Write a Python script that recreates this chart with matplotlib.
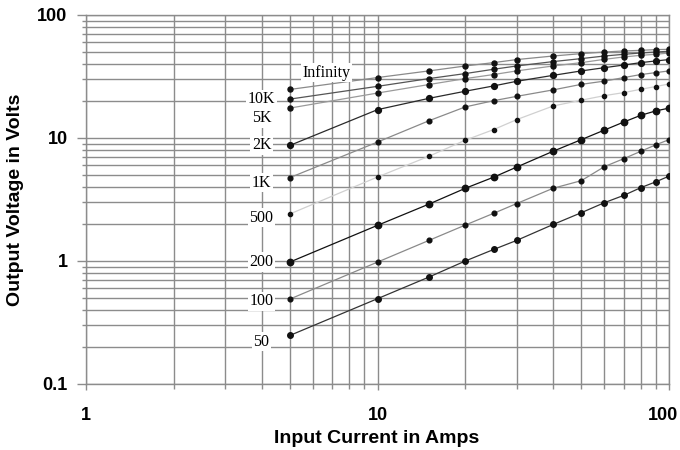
import matplotlib.pyplot as plt
from matplotlib.ticker import LogLocator, NullFormatter, FixedLocator, FixedFormatter
from matplotlib.transforms import ScaledTranslation

plt.rcParams["font.family"] = ["Liberation Sans", "DejaVu Sans"]

current = [5, 10, 15, 20, 25, 30, 40, 50, 60, 70, 80, 90, 100]

v_inf = [24.8, 31.0, 35.1, 38.5, 41.0, 43.4, 46.4, 48.5, 50.0, 51.0, 51.6, 52.3, 52.6]
v_10k = [20.7, 26.3, 30.4, 33.4, 36.2, 38.5, 41.8, 44.2, 46.4, 47.9, 49.1, 50.0, 50.7]
v_5k = [17.5, 23.2, 27.2, 30.4, 32.8, 35.1, 38.5, 41.0, 43.6, 45.6, 47.0, 47.9, 49.1]
v_2k = [8.7, 17.0, 21.0, 24.0, 26.5, 28.9, 32.3, 35.1, 37.3, 39.2, 41.0, 42.3, 43.4]
v_1k = [4.76, 9.27, 13.8, 17.9, 20.1, 21.8, 24.6, 27.3, 29.0, 31.0, 32.8, 34.0, 35.1]
v_500 = [2.41, 4.82, 7.1, 9.6, 11.7, 14.1, 18.2, 20.3, 22.1, 23.4, 24.9, 26.2, 27.5]
v_200 = [0.98, 1.95, 2.9, 3.9, 4.8, 5.8, 7.8, 9.7, 11.6, 13.5, 15.3, 16.6, 17.5]
v_100 = [0.49, 0.98, 1.47, 1.96, 2.44, 2.93, 3.9, 4.5, 5.85, 6.8, 7.8, 8.8, 9.7]
v_50 = [0.248, 0.494, 0.74, 1.0, 1.24, 1.47, 1.98, 2.47, 2.98, 3.42, 3.95, 4.4, 4.9]

load_names = ["Infinity", "10K", "5K", "2K", "1K", "500", "200", "100", "50"]
label_x = [6.7, 4, 4, 4, 4, 4, 4, 4, 4]
label_y = [34, 20.6, 14.5, 8.7, 4.33, 2.25, 0.98, 0.47, 0.22]

series = [v_inf, v_10k, v_5k, v_2k, v_1k, v_500, v_200, v_100, v_50]
colors = ["#8a8a8a", "#555555", "#9a9a9a", "#2a2a2a", "#8a8a8a",
          "#d0d0d0", "#111111", "#8a8a8a", "#333333"]
msizes = [3.6, 3.6, 3.6, 4.2, 3.4, 3.0, 4.6, 3.4, 4.0]

grid_c = "#8c8c8c"

fig = plt.figure(figsize=(6.8, 4.5), dpi=100)
ax = fig.add_axes([0.1265, 0.1467, 0.8575, 0.82])

ax.set_xscale("log")
ax.set_yscale("log")
ax.set_xlim(1, 100)
ax.set_ylim(0.1, 100)

for v, c, ms in zip(series, colors, msizes):
    ax.plot(current, v, color=c, lw=0.9, marker="o", ms=ms,
            mfc="#111111", mec="#111111", zorder=3)

for name, lx, ly in zip(load_names, label_x, label_y):
    ax.text(lx, ly, name, family=["Liberation Serif", "DejaVu Serif"],
            fontsize=11.5, ha="center", va="center", zorder=4,
            bbox=dict(facecolor="white", edgecolor="none", pad=1.2))

ax.xaxis.set_major_locator(FixedLocator([1, 10, 100]))
ax.xaxis.set_major_formatter(FixedFormatter(["1", "10", "100"]))
ax.yaxis.set_major_locator(FixedLocator([0.1, 1, 10, 100]))
ax.yaxis.set_major_formatter(FixedFormatter(["0.1", "1", "10", "100"]))
ax.xaxis.set_minor_locator(LogLocator(base=10, subs=range(2, 10)))
ax.yaxis.set_minor_locator(LogLocator(base=10, subs=range(2, 10)))
ax.xaxis.set_minor_formatter(NullFormatter())
ax.yaxis.set_minor_formatter(NullFormatter())

ax.grid(which="both", color=grid_c, lw=1.0)
ax.set_axisbelow(True)
for s in ax.spines.values():
    s.set_color(grid_c)
    s.set_linewidth(1.0)

ax.tick_params(axis="x", which="major", direction="out", length=4.5, width=1.0,
               color=grid_c, pad=12, labelsize=13)
ax.tick_params(axis="x", which="minor", direction="out", length=3.5, width=1.0,
               color=grid_c)
ax.tick_params(axis="y", which="major", direction="out", length=6.3, width=1.0,
               color=grid_c, pad=7, labelsize=13)
ax.tick_params(axis="y", which="minor", direction="out", length=3, width=1.0,
               color=grid_c)
for lab in ax.get_xticklabels() + ax.get_yticklabels():
    lab.set_fontweight("bold")

# keep the last x tick label inside the figure edge
last = ax.xaxis.get_major_ticks()[-1].label1
last.set_transform(last.get_transform() + ScaledTranslation(-6 / 100, 0, fig.dpi_scale_trans))

ax.set_xlabel("Input Current in Amps", fontsize=14, fontweight="bold")
ax.set_ylabel("Output Voltage in Volts", fontsize=14, fontweight="bold")
ax.xaxis.set_label_coords(0.499, -0.1247)
ax.yaxis.set_label_coords(-0.1063, 0.5)

plt.savefig("out.png", dpi=100)
